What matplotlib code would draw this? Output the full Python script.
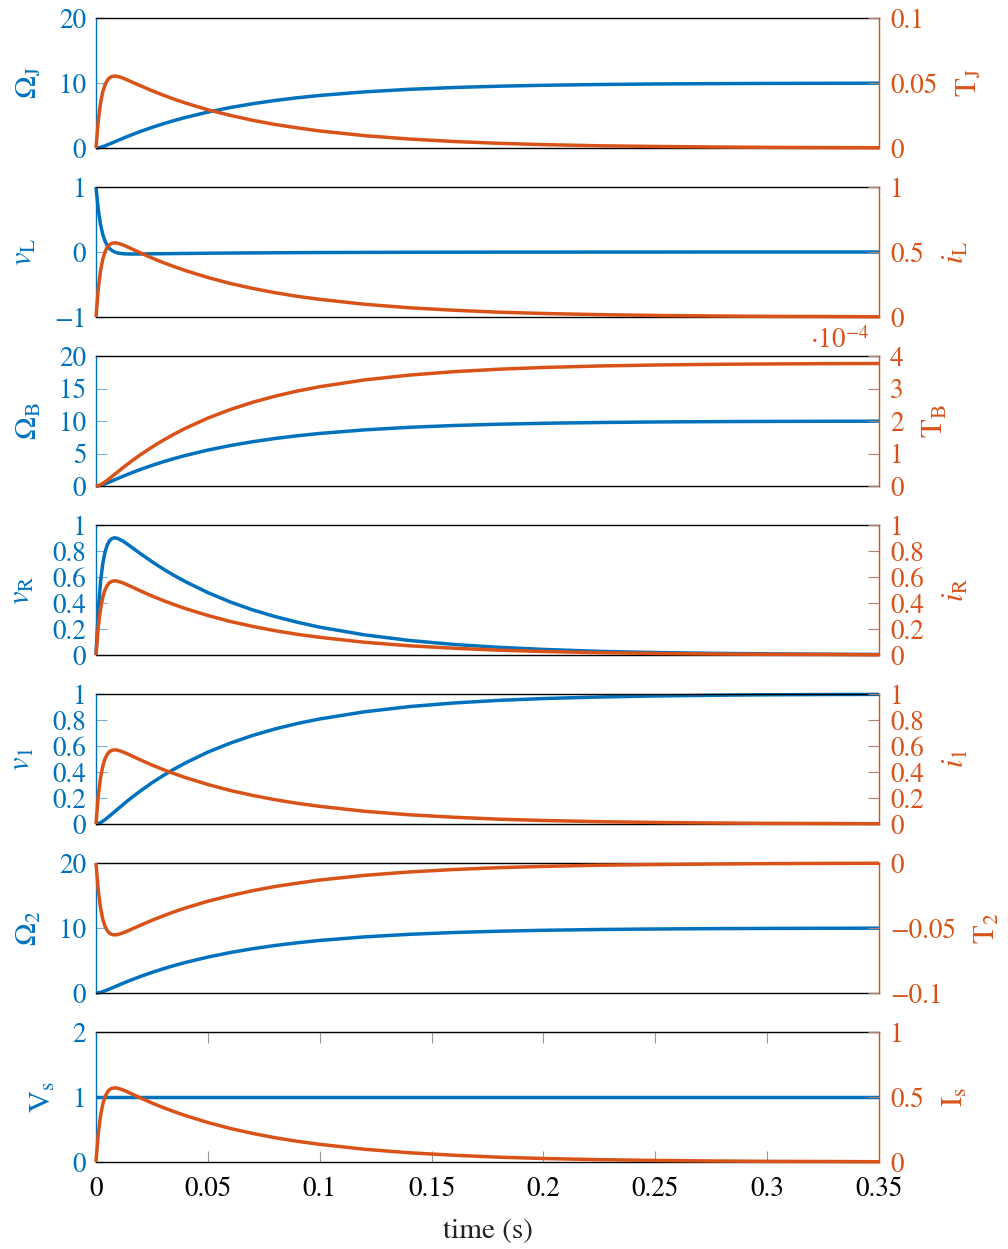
import matplotlib
matplotlib.use("Agg")
import matplotlib.pyplot as plt
from matplotlib.ticker import FixedLocator, FuncFormatter
from matplotlib.transforms import offset_copy

plt.rcParams["font.family"] = ["STIXGeneral", "DejaVu Serif"]
plt.rcParams["mathtext.fontset"] = "stix"

BLUE = "#0072BD"
ORANGE = "#D95319"

# ---------------------------------------------------------------- data
time = [0.000, 0.001, 0.002, 0.003, 0.004, 0.005, 0.006, 0.007, 0.008, 0.009,
        0.010, 0.012, 0.014, 0.016, 0.018, 0.020, 0.025, 0.030, 0.035, 0.040,
        0.050, 0.060, 0.070, 0.080, 0.090, 0.100, 0.120, 0.140, 0.160, 0.180,
        0.200, 0.225, 0.250, 0.275, 0.300, 0.325, 0.350]

# shaft speed (rad/s), same on J, B and 2
omega = [0.000, 0.030, 0.105, 0.209, 0.332, 0.466, 0.608, 0.753, 0.900, 1.048,
         1.194, 1.483, 1.765, 2.039, 2.303, 2.560, 3.165, 3.720, 4.231, 4.700,
         5.526, 6.223, 6.812, 7.309, 7.729, 8.083, 8.634, 9.027, 9.307, 9.506,
         9.648, 9.769, 9.850, 9.901, 9.935, 9.957, 9.972]

# loop current (A), same through L, R, 1 and the source
current = [0.000, 0.214, 0.353, 0.443, 0.500, 0.535, 0.556, 0.566, 0.570, 0.570,
           0.566, 0.555, 0.540, 0.524, 0.508, 0.492, 0.454, 0.419, 0.387, 0.357,
           0.304, 0.258, 0.220, 0.187, 0.159, 0.136, 0.098, 0.071, 0.052, 0.037,
           0.027, 0.018, 0.012, 0.008, 0.005, 0.004, 0.002]

torque_J = [0.0000, 0.0207, 0.0342, 0.0430, 0.0485, 0.0519, 0.0539, 0.0549, 0.0553, 0.0552,
            0.0549, 0.0538, 0.0524, 0.0508, 0.0493, 0.0478, 0.0441, 0.0407, 0.0375, 0.0346,
            0.0294, 0.0251, 0.0213, 0.0181, 0.0155, 0.0131, 0.0095, 0.0069, 0.0050, 0.0036,
            0.0026, 0.0017, 0.0012, 0.0008, 0.0005, 0.0003, 0.0002]

torque_2 = [0.0000, -0.0207, -0.0342, -0.0430, -0.0485, -0.0519, -0.0539, -0.0549, -0.0553, -0.0552,
            -0.0549, -0.0538, -0.0524, -0.0508, -0.0493, -0.0478, -0.0441, -0.0407, -0.0375, -0.0346,
            -0.0294, -0.0251, -0.0213, -0.0181, -0.0155, -0.0131, -0.0095, -0.0069, -0.0050, -0.0036,
            -0.0026, -0.0017, -0.0012, -0.0008, -0.0005, -0.0003, -0.0002]

# damper torque in units of 1e-4 N m
torque_B_e4 = [0.000, 0.011, 0.040, 0.079, 0.126, 0.176, 0.230, 0.285, 0.340, 0.396,
               0.451, 0.561, 0.667, 0.771, 0.871, 0.968, 1.196, 1.406, 1.599, 1.777,
               2.089, 2.352, 2.575, 2.763, 2.922, 3.055, 3.264, 3.412, 3.518, 3.593,
               3.647, 3.693, 3.723, 3.743, 3.755, 3.764, 3.769]

v_L = [1.000, 0.657, 0.427, 0.274, 0.171, 0.102, 0.056, 0.026, 0.006, -0.008,
       -0.017, -0.026, -0.030, -0.031, -0.031, -0.030, -0.028, -0.026, -0.024, -0.022,
       -0.019, -0.016, -0.014, -0.012, -0.010, -0.008, -0.006, -0.004, -0.003, -0.002,
       -0.002, -0.001, -0.001, 0.000, 0.000, 0.000, 0.000]

v_R = [0.000, 0.337, 0.558, 0.700, 0.790, 0.845, 0.878, 0.894, 0.901, 0.900,
       0.894, 0.877, 0.853, 0.828, 0.803, 0.778, 0.718, 0.662, 0.611, 0.564,
       0.480, 0.408, 0.347, 0.296, 0.252, 0.214, 0.155, 0.112, 0.081, 0.059,
       0.043, 0.028, 0.019, 0.013, 0.009, 0.006, 0.004]

v_1 = [0.000, 0.003, 0.011, 0.021, 0.033, 0.047, 0.061, 0.075, 0.090, 0.105,
       0.119, 0.148, 0.177, 0.204, 0.230, 0.256, 0.317, 0.372, 0.423, 0.470,
       0.553, 0.622, 0.681, 0.731, 0.773, 0.808, 0.863, 0.903, 0.931, 0.951,
       0.965, 0.977, 0.985, 0.990, 0.994, 0.996, 0.997]

vs_time = [0.0, 0.35]
V_s = [1.0, 1.0]

# panel definitions: (left label, left x, left y, left ylim, left ticks,
#                     right label, right x, right y, right ylim, right ticks)
panels = [
    (r"$\Omega_{\mathrm{J}}$", time, omega, (0, 20), [0, 10, 20],
     r"$\mathrm{T}_{\mathrm{J}}$", time, torque_J, (0, 0.1), [0, 0.05, 0.1]),
    (r"$v_{\mathrm{L}}$", time, v_L, (-1, 1), [-1, 0, 1],
     r"$i_{\mathrm{L}}$", time, current, (0, 1), [0, 0.5, 1]),
    (r"$\Omega_{\mathrm{B}}$", time, omega, (0, 20), [0, 5, 10, 15, 20],
     r"$\mathrm{T}_{\mathrm{B}}$", time, torque_B_e4, (0, 4), [0, 1, 2, 3, 4]),
    (r"$v_{\mathrm{R}}$", time, v_R, (0, 1), [0, 0.2, 0.4, 0.6, 0.8, 1],
     r"$i_{\mathrm{R}}$", time, current, (0, 1), [0, 0.2, 0.4, 0.6, 0.8, 1]),
    (r"$v_{1}$", time, v_1, (0, 1), [0, 0.2, 0.4, 0.6, 0.8, 1],
     r"$i_{1}$", time, current, (0, 1), [0, 0.2, 0.4, 0.6, 0.8, 1]),
    (r"$\Omega_{2}$", time, omega, (0, 20), [0, 10, 20],
     r"$\mathrm{T}_{2}$", time, torque_2, (-0.1, 0), [-0.1, -0.05, 0]),
    (r"$\mathrm{V}_{\mathrm{s}}$", vs_time, V_s, (0, 2), [0, 1, 2],
     r"$\mathrm{I}_{\mathrm{s}}$", time, current, (0, 1), [0, 0.5, 1]),
]

x_ticks = [0, 0.05, 0.1, 0.15, 0.2, 0.25, 0.3, 0.35]

# ---------------------------------------------------------------- figure
W, H = 1008, 1249
fig = plt.figure(figsize=(W / 100, H / 100), dpi=100)

FS = 19.5
LFS = 22
LW = 2.5
fmt = FuncFormatter(lambda v, p: f"{v:g}".replace("-", "\u2212"))

ax_left, ax_width = 96 / W, 783 / W
ax_h = 130 / H

for k, (lab1, x1, y1, lim1, tk1, lab2, x2, y2, lim2, tk2) in enumerate(panels):
    bottom = (H - 148 - 169 * k) / H
    ax = fig.add_axes([ax_left, bottom, ax_width, ax_h])
    ax2 = ax.twinx()

    ax.plot(x1, y1, color=BLUE, lw=LW, clip_on=False, solid_capstyle="butt")
    ax2.plot(x2, y2, color=ORANGE, lw=LW, clip_on=False, solid_capstyle="butt")

    ax.set_xlim(0, 0.35)
    ax.set_ylim(*lim1)
    ax2.set_ylim(*lim2)

    ax.yaxis.set_major_locator(FixedLocator(tk1))
    ax2.yaxis.set_major_locator(FixedLocator(tk2))
    ax.yaxis.set_major_formatter(fmt)
    ax2.yaxis.set_major_formatter(fmt)

    # spines
    for s in ("top", "bottom"):
        ax.spines[s].set_color("black")
        ax.spines[s].set_linewidth(1.0)
        ax2.spines[s].set_visible(False)
    ax.spines["right"].set_visible(False)
    ax.spines["left"].set_color(BLUE)
    ax.spines["left"].set_linewidth(1.0)
    ax2.spines["left"].set_visible(False)
    ax2.spines["right"].set_color(ORANGE)
    ax2.spines["right"].set_linewidth(1.0)

    ax.tick_params(axis="y", direction="in", length=8, width=0.8,
                   color="#7fb2d9", labelcolor=BLUE, labelsize=FS, pad=7)
    ax2.tick_params(axis="y", direction="in", length=8, width=0.8,
                    color="#b08070", labelcolor=ORANGE, labelsize=FS, pad=8)

    ax.set_ylabel(lab1, color=BLUE, fontsize=LFS, labelpad=11)
    ax2.set_ylabel(lab2, color=ORANGE, fontsize=LFS, labelpad=13)

    if k == len(panels) - 1:
        ax.xaxis.set_major_locator(FixedLocator(x_ticks))
        ax.xaxis.set_major_formatter(fmt)
        ax.tick_params(axis="x", direction="in", length=8, width=0.8,
                       color="#999999", top=True, bottom=True,
                       labelsize=FS, labelcolor="black", pad=11)
        ax.set_xlabel("time (s)", fontsize=LFS - 1, color="#222222", labelpad=12)
    else:
        ax.tick_params(axis="x", bottom=False, top=False, labelbottom=False)

    if lab2 == r"$\mathrm{T}_{\mathrm{B}}$":
        tr = offset_copy(ax2.transAxes, fig=fig, x=-10, y=2, units="dots")
        ax2.text(1.0, 1.0, r"$\cdot10^{-4}$", transform=tr, ha="right",
                 va="bottom", color=ORANGE, fontsize=FS)

fig.savefig("out.png", dpi=100)
